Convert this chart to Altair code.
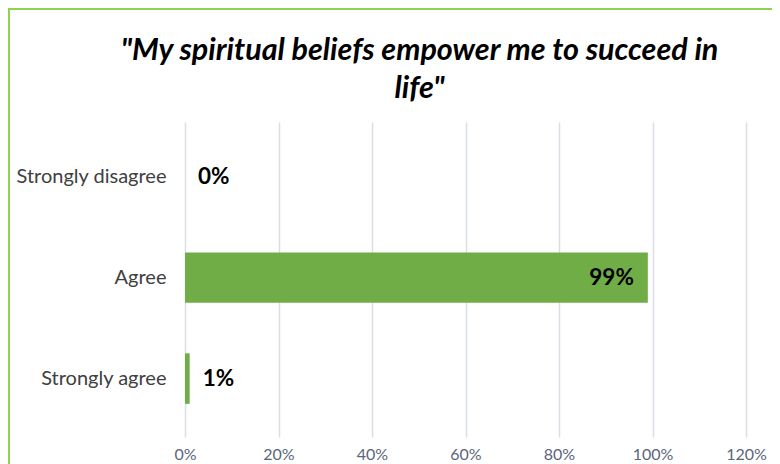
import altair as alt
import pandas as pd

categories = ["Strongly disagree", "Agree", "Strongly agree"]
values = [0.0, 0.99, 0.01]
x_ticks = [0, 0.2, 0.4, 0.6, 0.8, 1.0, 1.2]

df = pd.DataFrame({"category": categories, "value": values})

FONT = "Lato"
W, H = 561, 315

y_enc = alt.Y(
    "category:N",
    sort=categories,
    scale=alt.Scale(paddingInner=0.5, paddingOuter=0.31, align=0.47),
    axis=alt.Axis(
        title=None, ticks=False, domain=False, grid=False, labelPadding=19,
        labelFont=FONT, labelFontSize=20, labelColor="#404040",
    ),
)
x_enc = alt.X(
    "value:Q",
    scale=alt.Scale(domain=[0, 1.2], nice=False),
    axis=alt.Axis(
        title=None, values=x_ticks, format=".0%", ticks=False, domain=False,
        grid=True, gridColor="#d9dde5", gridWidth=1.5, labelFlush=False,
        labelFont=FONT, labelFontSize=16, labelColor="#5a6679", labelPadding=9,
    ),
)

base = alt.Chart(df)

bars = base.mark_bar(color="#70AD47").encode(x=x_enc, y=y_enc)

labels_out = base.transform_filter("datum.value < 0.5").mark_text(
    align="left", baseline="middle", dx=13, font=FONT, fontWeight="bold",
    fontSize=22.5, color="#000000",
).encode(x="value:Q", y=alt.Y("category:N", sort=categories),
         text=alt.Text("value:Q", format=".0%"))

labels_in = base.transform_filter("datum.value >= 0.5").mark_text(
    align="right", baseline="middle", dx=-14, font=FONT, fontWeight="bold",
    fontSize=22.5, color="#000000",
).encode(x="value:Q", y=alt.Y("category:N", sort=categories),
         text=alt.Text("value:Q", format=".0%"))

frame_df = pd.DataFrame({"k": [0]})
border_left = alt.Chart(frame_df).mark_rule(color="#92D050", strokeWidth=2).encode(
    x=alt.value(-176), y=alt.value(-114), y2=alt.value(342))
border_top = alt.Chart(frame_df).mark_rule(color="#92D050", strokeWidth=2).encode(
    y=alt.value(-113), x=alt.value(-177), x2=alt.value(587))

chart = alt.layer(bars, labels_out, labels_in, border_left, border_top).properties(
    width=W, height=H,
    background="white",
    autosize=alt.AutoSizeParams(type="none"),
    padding={"left": 177, "top": 114, "right": 26, "bottom": 27},
    title=alt.TitleParams(
        text=['"My spiritual beliefs empower me to succeed in', 'life"'],
        font=FONT, fontSize=30.5, fontWeight="bold", fontStyle="italic",
        color="#000000", anchor="middle", dx=-46, lineHeight=38, offset=-97,
    ),
).configure_view(stroke="transparent", strokeWidth=0)

chart.save("out.html", embed_options={"renderer": "svg", "actions": False})
